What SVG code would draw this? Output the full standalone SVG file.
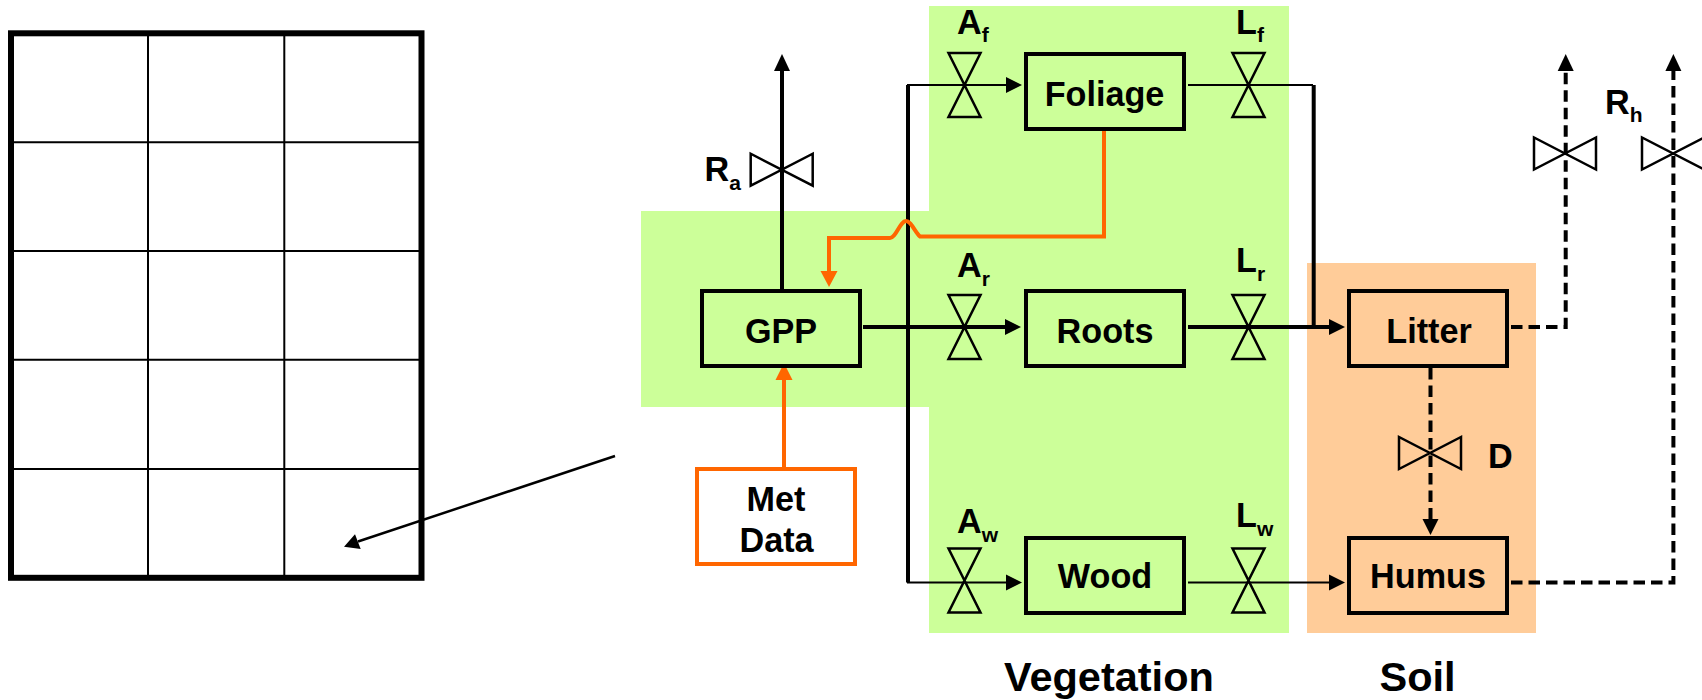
<svg xmlns="http://www.w3.org/2000/svg" width="1702" height="700" viewBox="0 0 1702 700">
<style>
text{font-family:"Liberation Sans",Arial,sans-serif;font-weight:700;fill:#000;font-size:34.200px}
.cap{font-size:41.500px}
.sub{font-size:21px}
.box{stroke:#000;stroke-width:4}
.green{fill:#ccff99}
.tan{fill:#ffcc99}
.g{fill:none;stroke:#000;stroke-width:2}
.gb{fill:none;stroke:#000;stroke-width:6}
.l{fill:none;stroke:#000;stroke-width:4}
.t{fill:none;stroke:#000;stroke-width:2}
.d{fill:none;stroke:#000;stroke-width:4;stroke-dasharray:11.5 6}
.o{fill:none;stroke:#ff6600;stroke-width:4}
.bow{fill:none;stroke:#000;stroke-width:2.500}
</style>
<defs>
<path id="bv" d="M-16 -32H16L-16 32H16Z"/>
<path id="bh" d="M-31 -16V16L31 -16V16Z"/>
</defs>
<g id="backgrounds">
<path class="green" d="M929 6H1289V633H929V407H641V211H929Z"/>
<rect class="tan" x="1307" y="263" width="229" height="370"/>
</g>
<g id="grid">
<path class="g" d="M148 33V578M284.300 33V578M11 142.300H421M11 251H421M11 359.700H421M11 469H421"/>
<rect class="gb" x="11" y="33.300" width="410.500" height="544.500"/>
</g>
<g id="connectors">
<path class="l" d="M782 291V70"/>
<path d="M782 54L774 71H790Z"/>
<path class="l" d="M908 85V582.500"/>
<path class="t" d="M907 85H1008"/>
<path d="M1022 85L1006 77V93Z"/>
<path class="l" d="M863 327H1007"/>
<path d="M1021 327L1005 319V335Z"/>
<path class="t" d="M907 582.500H1008"/>
<path d="M1022 582.500L1006 574.500V590.500Z"/>
<path class="t" d="M1188 85H1313"/>
<path class="l" d="M1313.700 85V327"/>
<path class="l" d="M1188 327H1331"/>
<path d="M1345 327L1329 319V335Z"/>
<path class="t" d="M1188 582.500H1331"/>
<path d="M1345 582.500L1329 574.500V590.500Z"/>
<path class="d" d="M1511 327H1565.700V70"/>
<path d="M1565.700 54L1557.700 71H1573.700Z"/>
<path class="d" d="M1511 582.500H1673.400V70"/>
<path d="M1673.400 54L1665.400 71H1681.400Z"/>
<path class="d" d="M1430.500 368V522"/>
<path d="M1430.500 535L1422.500 519H1438.500Z"/>
<path class="o" d="M1104 129V236.500H920C915 232 911 221 906 221C900 221 896 238 890 238H829V273"/>
<path fill="#ff6600" d="M829 287L820.500 271H837.500Z"/>
<path class="o" d="M784 472V378"/>
<path fill="#ff6600" d="M784 363L775.500 380H792.500Z"/>
<path class="t" style="stroke-width:2.500" d="M615 456L358 541.500"/>
<path d="M344 546.700L355 534.300L360.700 549Z"/>
</g>
<g id="gpp"><rect class="box green" x="702" y="291" width="158" height="75"/><text x="781" y="343" text-anchor="middle">GPP</text></g>
<g id="metdata"><rect x="697" y="469" width="158" height="95" fill="#fff" stroke="#ff6600" stroke-width="4"/><text x="776" y="511" text-anchor="middle">Met</text><text x="776.500" y="552" text-anchor="middle">Data</text></g>
<g id="foliage"><rect class="box green" x="1026" y="54" width="158" height="75"/><text x="1104.500" y="106" text-anchor="middle">Foliage</text></g>
<g id="roots"><rect class="box green" x="1026" y="291" width="158" height="75"/><text x="1105" y="343" text-anchor="middle">Roots</text></g>
<g id="wood"><rect class="box green" x="1026" y="538" width="158" height="75"/><text x="1105" y="588" text-anchor="middle">Wood</text></g>
<g id="litter"><rect class="box tan" x="1349" y="291" width="158" height="75"/><text x="1429" y="343" text-anchor="middle">Litter</text></g>
<g id="humus"><rect class="box tan" x="1349" y="538" width="158" height="75"/><text x="1428" y="588" text-anchor="middle">Humus</text></g>
<g id="valve-ra"><use href="#bh" class="bow" x="781.700" y="169.700"/><text x="704.500" y="181">R<tspan class="sub" dy="8.500">a</tspan></text></g>
<g id="valve-af"><use href="#bv" class="bow" x="964.500" y="85"/><text x="957" y="34">A<tspan class="sub" dy="8">f</tspan></text></g>
<g id="valve-ar"><use href="#bv" class="bow" x="964.500" y="327"/><text x="957" y="277">A<tspan class="sub" dy="9">r</tspan></text></g>
<g id="valve-aw"><use href="#bv" class="bow" x="964.500" y="580.500"/><text x="957" y="532.500">A<tspan class="sub" dy="9">w</tspan></text></g>
<g id="valve-lf"><use href="#bv" class="bow" x="1248.500" y="85"/><text x="1236" y="34">L<tspan class="sub" dy="8">f</tspan></text></g>
<g id="valve-lr"><use href="#bv" class="bow" x="1248.500" y="327"/><text x="1236" y="271.500">L<tspan class="sub" dy="9">r</tspan></text></g>
<g id="valve-lw"><use href="#bv" class="bow" x="1248.500" y="580.500"/><text x="1236" y="526.500">L<tspan class="sub" dy="9">w</tspan></text></g>
<g id="valve-rh1"><use href="#bh" class="bow" x="1565" y="153.500"/></g>
<g id="valve-rh2"><use href="#bh" class="bow" x="1673" y="153.500"/></g>
<text id="label-rh" x="1605" y="113.500">R<tspan class="sub" dy="8">h</tspan></text>
<g id="valve-d"><use href="#bh" class="bow" x="1430" y="453"/><text x="1488" y="468">D</text></g>
<text id="label-vegetation" class="cap" x="1004" y="691">Vegetation</text>
<text id="label-soil" class="cap" x="1379.500" y="691">Soil</text>
</svg>
